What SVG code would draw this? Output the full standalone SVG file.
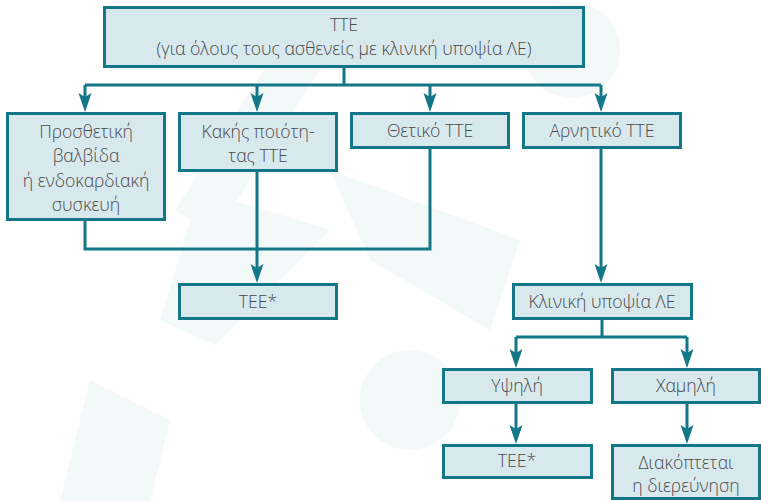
<svg xmlns="http://www.w3.org/2000/svg" width="761" height="501" viewBox="0 0 761 501">
<defs>
<path id="ah" d="M-6.5,-19 L0,-15 L6.5,-19 L0,0 Z" fill="#137788"/>
<style>
.box{fill:#d8e9ee;stroke:#137788;stroke-width:3}
.t{font-family:"Open Sans","Noto Sans","DejaVu Sans",sans-serif;font-size:17.6px;font-weight:300;fill:#4a4a4a;text-anchor:middle}
.c{fill:none;stroke:#137788;stroke-width:3}
.wm{fill:#f3f8f9}
</style>
</defs>
<rect width="761" height="501" fill="#ffffff"/>
<g id="watermark">
<circle class="wm" cx="572" cy="50" r="48"/>
<polygon class="wm" points="290,28 345,30 215,235 175,210"/>
<polygon class="wm" points="200,190 330,230 215,345 160,320"/>
<polygon class="wm" points="330,170 520,240 490,330 370,260"/>
<polygon class="wm" points="90,380 170,420 150,501 60,501"/>
<circle class="wm" cx="410" cy="400" r="50"/>
</g>
<g id="connectors">
<path class="c" d="M344,66 V85 M85,85 H601"/>
<path class="c" d="M85,85 V100 M257,85 V100 M430,85 V100 M601,85 V100"/>
<use href="#ah" x="85" y="112"/>
<use href="#ah" x="257" y="112"/>
<use href="#ah" x="430" y="112"/>
<use href="#ah" x="601" y="112"/>
<path class="c" d="M85,220 V249 H430 V148"/>
<path class="c" d="M257,171 V272"/>
<use href="#ah" x="257" y="283"/>
<path class="c" d="M601,148 V272"/>
<use href="#ah" x="601" y="283"/>
<path class="c" d="M602,318 V337 M516,337 H687 M516,337 V356 M687,337 V356"/>
<use href="#ah" x="516" y="368"/>
<use href="#ah" x="687" y="368"/>
<path class="c" d="M516,402 V432 M687,402 V432"/>
<use href="#ah" x="516" y="444"/>
<use href="#ah" x="687" y="444"/>
</g>
<g id="n-tte">
<rect class="box" x="104.5" y="7.5" width="479" height="59"/>
<text class="t" x="344" y="31">TTE</text>
<text class="t" x="344" y="55">(για όλους τους ασθενείς με κλινική υποψία ΛΕ)</text>
</g>
<g id="n-prosthetiki">
<rect class="box" x="7.5" y="113.5" width="157" height="106"/>
<text class="t" x="86" y="138">Προσθετική</text>
<text class="t" x="86" y="162">βαλβίδα</text>
<text class="t" x="86" y="187">ή ενδοκαρδιακή</text>
<text class="t" x="86" y="211">συσκευή</text>
</g>
<g id="n-kakis">
<rect class="box" x="179.5" y="113.5" width="157" height="57"/>
<text class="t" x="258" y="138">Κακής ποιότη-</text>
<text class="t" x="258" y="162">τας TTE</text>
</g>
<g id="n-thetiko">
<rect class="box" x="351.5" y="113.5" width="157" height="34"/>
<text class="t" x="430" y="137">Θετικό TTE</text>
</g>
<g id="n-arnitiko">
<rect class="box" x="523.5" y="113.5" width="157" height="34"/>
<text class="t" x="602" y="137">Αρνητικό TTE</text>
</g>
<g id="n-tee1">
<rect class="box" x="179.5" y="284.5" width="157" height="34"/>
<text class="t" x="258" y="308">TEE*</text>
</g>
<g id="n-kliniki">
<rect class="box" x="513.5" y="284.5" width="178" height="34"/>
<text class="t" x="602" y="308">Κλινική υποψία ΛΕ</text>
</g>
<g id="n-ypsili">
<rect class="box" x="443.5" y="369.5" width="148" height="33"/>
<text class="t" x="517" y="392">Υψηλή</text>
</g>
<g id="n-chamili">
<rect class="box" x="612.5" y="369.5" width="147" height="33"/>
<text class="t" x="686" y="392">Χαμηλή</text>
</g>
<g id="n-tee2">
<rect class="box" x="443.5" y="445.5" width="148" height="32"/>
<text class="t" x="517" y="467">TEE*</text>
</g>
<g id="n-diakoptetai">
<rect class="box" x="612.5" y="445.5" width="147" height="53"/>
<text class="t" x="686" y="469">Διακόπτεται</text>
<text class="t" x="686" y="492">η διερεύνηση</text>
</g>
</svg>
